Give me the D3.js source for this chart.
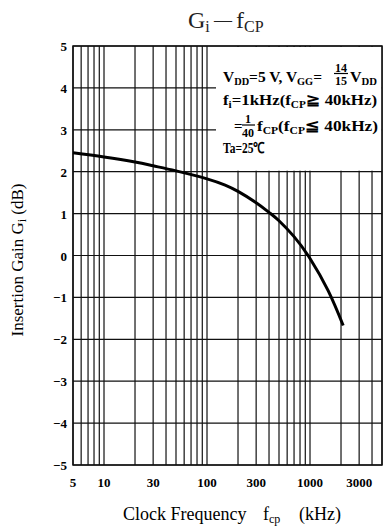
<!DOCTYPE html>
<html>
<head>
<meta charset="utf-8">
<script src="https://cdn.jsdelivr.net/npm/d3@7"></script>
<style>
  body { margin: 0; background: #fff; }
  svg { display: block; font-family: "Liberation Serif", "Times New Roman", serif; }
</style>
</head>
<body>
<div class="chart"></div>
<script>
// curve (kHz, dB)
const freq = [5, 10, 20, 30, 50, 100, 150, 200, 300, 400, 500, 700, 1000, 1500, 2100];
const gain = [2.45, 2.35, 2.23, 2.14, 2.02, 1.83, 1.68, 1.53, 1.26, 1.03, 0.83, 0.45, -0.07, -0.84, -1.67];

// grid and tick values
const xGrid = [5, 6, 7, 8, 9, 10, 20, 30, 40, 50, 60, 70, 80, 90, 100,
               200, 300, 400, 500, 600, 700, 800, 900, 1000, 2000, 3000, 4000, 5000];
const xTicks = [5, 10, 30, 100, 300, 1000, 3000];
const yTicks = [5, 4, 3, 2, 1, 0, -1, -2, -3, -4, -5];

const w = 386, h = 531;
const pLeft = 73, pRight = 382, pTop = 46, pBottom = 465;

const x = d3.scaleLog().domain([5, 5000]).range([pLeft, pRight]);
const y = d3.scaleLinear().domain([-5, 5]).range([pBottom, pTop]);

const svg = d3.select('.chart').append('svg')
    .attr('width', w)
    .attr('height', h);

// grid
const grid = svg.append('g').attr('stroke', '#111').attr('stroke-width', 1.2);
grid.selectAll('.vg')
    .data(xGrid)
    .join('line')
    .attr('x1', d => x(d)).attr('x2', d => x(d))
    .attr('y1', pTop).attr('y2', pBottom);
grid.selectAll('.hg')
    .data(yTicks)
    .join('line')
    .attr('x1', pLeft).attr('x2', pRight)
    .attr('y1', d => y(d)).attr('y2', d => y(d));

// white panel behind the conditions text, covering the grid
svg.append('rect')
    .attr('x', 216).attr('y', pTop + 1)
    .attr('width', pRight - 216 - 0.5).attr('height', y(2) - pTop - 2)
    .attr('fill', '#fff');

// frame
svg.append('rect')
    .attr('x', pLeft).attr('y', pTop)
    .attr('width', pRight - pLeft).attr('height', pBottom - pTop)
    .attr('fill', 'none').attr('stroke', '#111').attr('stroke-width', 1.5);

// curve
const line = d3.line()
    .x((d, i) => x(freq[i]))
    .y(d => y(d))
    .curve(d3.curveNatural);
svg.append('path')
    .attr('d', line(gain))
    .attr('fill', 'none')
    .attr('stroke', '#000')
    .attr('stroke-width', 3);

// tick labels
svg.append('g')
    .selectAll('text')
    .data(xTicks)
    .join('text')
    .attr('x', d => x(d))
    .attr('y', 487)
    .attr('text-anchor', 'middle')
    .attr('font-size', 13)
    .attr('font-weight', 'bold')
    .text(d => d);

svg.append('g')
    .selectAll('text')
    .data(yTicks)
    .join('text')
    .attr('x', 67)
    .attr('y', d => y(d) + 5)
    .attr('text-anchor', 'end')
    .attr('font-size', 13)
    .attr('font-weight', 'bold')
    .text(d => d < 0 ? '\u2212' + (-d) : d);

// title
const title = svg.append('text')
    .attr('x', 188).attr('y', 28)
    .attr('font-size', 24)
    .attr('fill', '#222');
title.append('tspan').text('G');
title.append('tspan').attr('font-size', 16).attr('dy', 4).text('i');
title.append('tspan').attr('x', 214).attr('dy', -6).attr('font-size', 18).text('\u2014');
title.append('tspan').attr('x', 236).attr('dy', 2).text('f');
title.append('tspan').attr('font-size', 16).attr('dy', 4).text('CP');

// axis titles
const xl = svg.append('text')
    .attr('x', 123).attr('y', 520)
    .attr('font-size', 18);
xl.append('tspan').text('Clock Frequency');
xl.append('tspan').attr('x', 263).text('f');
xl.append('tspan').attr('font-size', 12).attr('dy', 3).text('cp');
xl.append('tspan').attr('x', 299).attr('dy', -3).text('(kHz)');

const yl = svg.append('text')
    .attr('transform', 'translate(23,260) rotate(-90)')
    .attr('text-anchor', 'middle')
    .attr('font-size', 17);
yl.append('tspan').text('Insertion Gain G');
yl.append('tspan').attr('font-size', 12).attr('dy', 3).text('i');
yl.append('tspan').attr('dy', -3).text(' (dB)');

// conditions text
const note = svg.append('g').attr('font-weight', 'bold').attr('font-size', 15);
const sub = (t, s) => { t.append('tspan').attr('font-size', 10).attr('dy', 3).text(s); };
const rest = (t, s) => { t.append('tspan').attr('dy', -3).text(s); };
const fit = (t, len) => t.attr('textLength', len).attr('lengthAdjust', 'spacingAndGlyphs');

let t = note.append('text').attr('x', 223).attr('y', 82);
t.append('tspan').text('V'); sub(t, 'DD'); rest(t, '=5 V, V'); sub(t, 'GG'); rest(t, '=');
fit(t, 99);
note.append('text').attr('x', 341).attr('y', 71.5).attr('text-anchor', 'middle')
    .attr('font-size', 12).text('14');
note.append('line').attr('x1', 334).attr('x2', 348).attr('y1', 73.5).attr('y2', 73.5)
    .attr('stroke', '#000').attr('stroke-width', 1.2);
note.append('text').attr('x', 341).attr('y', 85).attr('text-anchor', 'middle')
    .attr('font-size', 12).text('15');
t = note.append('text').attr('x', 350).attr('y', 82);
t.append('tspan').text('V'); sub(t, 'DD');
fit(t, 27);

t = note.append('text').attr('x', 223).attr('y', 105);
t.append('tspan').text('f'); sub(t, 'i'); rest(t, '=1kHz(f'); sub(t, 'CP'); rest(t, '\u2267 40kHz)');
fit(t, 154);

note.append('text').attr('x', 234).attr('y', 131).text('=');
note.append('text').attr('x', 248).attr('y', 123).attr('text-anchor', 'middle')
    .attr('font-size', 12).text('1');
note.append('line').attr('x1', 242).attr('x2', 255).attr('y1', 125).attr('y2', 125)
    .attr('stroke', '#000').attr('stroke-width', 1.2);
note.append('text').attr('x', 248).attr('y', 137).attr('text-anchor', 'middle')
    .attr('font-size', 12).text('40');
t = note.append('text').attr('x', 257).attr('y', 131);
t.append('tspan').text('f'); sub(t, 'CP'); rest(t, '(f'); sub(t, 'CP'); rest(t, '\u2266 40kHz)');
fit(t, 121);

t = note.append('text').attr('x', 223).attr('y', 153).text('Ta=25\u2103');
fit(t, 42);
</script>
</body>
</html>
